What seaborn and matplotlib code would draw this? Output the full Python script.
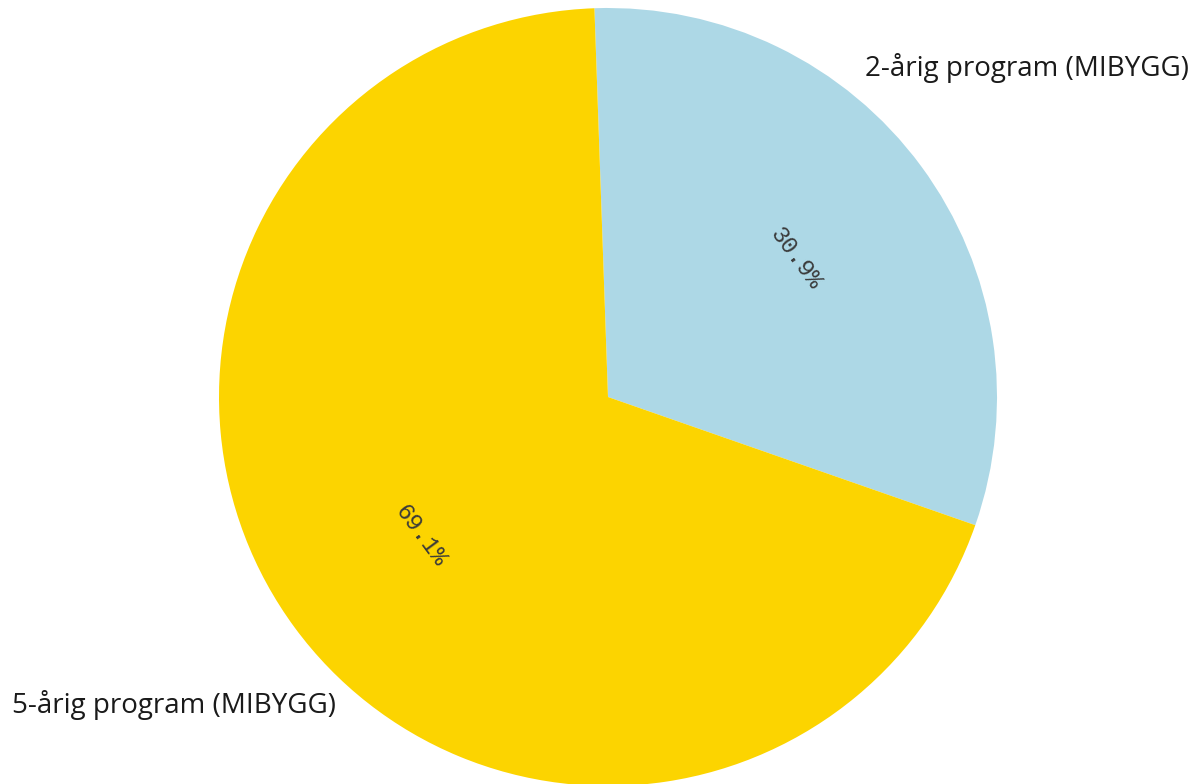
import matplotlib
matplotlib.use("Agg")
import matplotlib.pyplot as plt
import numpy as np
import seaborn as sns

# data
programs = ['2-årig program (MIBYGG)', '5-årig program (MIBYGG)']
shares = [30.9, 69.1]
colors = ['#ADD8E6', '#FCD400']

sns.set_theme(style="white")
plt.rcParams['font.family'] = ['Open Sans', 'DejaVu Sans']

fig = plt.figure(figsize=(11.94, 7.84), dpi=100)
ax = fig.add_axes([219 / 1194, -2 / 784, 778 / 1194, 778 / 784])

wedges, texts, autotexts = ax.pie(
    shares,
    labels=programs,
    colors=colors,
    startangle=92,
    counterclock=False,
    autopct='%1.1f%%',
    pctdistance=0.6,
    wedgeprops={'linewidth': 0},
    textprops={'fontsize': 20, 'color': '#1a1a1a'},
)
ax.set_xlim(-1, 1)
ax.set_ylim(-1, 1)
ax.set_aspect('equal')

# outside labels, placed like the original
texts[0].set_position((0.661, 0.846))
texts[0].set_ha('left')
texts[0].set_va('center')
texts[1].set_position((-1.532, -0.792))
texts[1].set_ha('left')
texts[1].set_va('center')
for t in texts:
    t.set_clip_on(False)

# percentages: monospace, tangential orientation
for w, t in zip(wedges, autotexts):
    mid = (w.theta1 + w.theta2) / 2
    rot = mid - 90
    rot = (rot + 90) % 180 - 90
    t.set_rotation(rot)
    t.set_rotation_mode('anchor')
    t.set_ha('center')
    t.set_va('center')
    t.set_fontfamily('Liberation Mono')
    t.set_fontsize(17)
    t.set_color('#3a3a3a')

plt.savefig('out.png', dpi=100)
plt.close()
